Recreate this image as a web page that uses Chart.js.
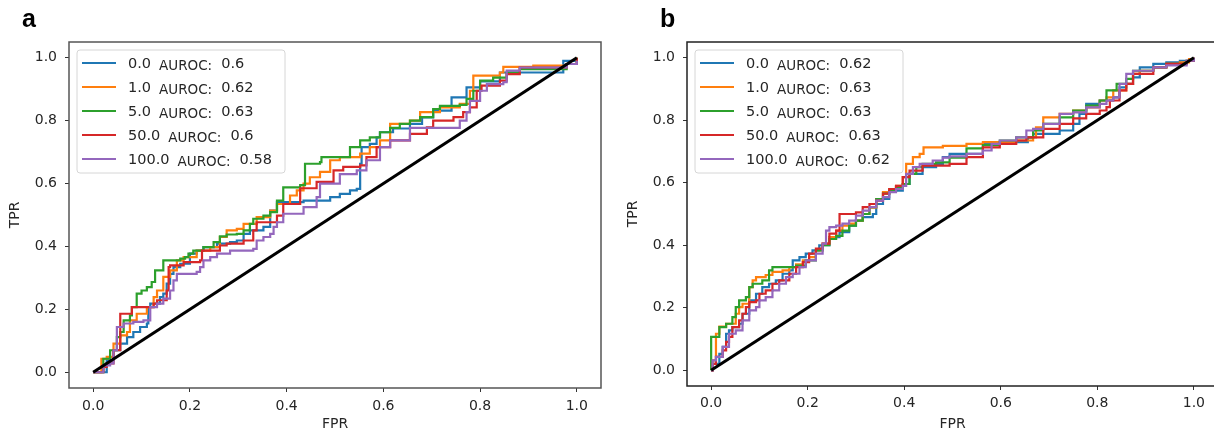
<!DOCTYPE html>
<html>
<head>
<meta charset="utf-8">
<script src="https://cdn.jsdelivr.net/npm/chart.js@4.4.1/dist/chart.umd.min.js"></script>
<style>
  html, body { margin: 0; padding: 0; background: #fff; overflow: hidden; width: 1214px; height: 439px; }
  .panel { position: absolute; top: 0; }
  #wrapA { left: 0; width: 602px; height: 439px; }
  #wrapB { left: 614px; width: 605px; height: 439px; }
  .letter { position: absolute; z-index: 2; font-family: "Liberation Sans", Arial, sans-serif; font-weight: bold; font-size: 25px; line-height: 25px; color: #000; }
</style>
</head>
<body>
<div class="panel" id="wrapA"><canvas id="chartA" width="602" height="439"></canvas></div>
<div class="panel" id="wrapB"><canvas id="chartB" width="605" height="439"></canvas></div>
<div class="letter" style="left:22px;top:6px">a</div>
<div class="letter" style="left:660px;top:6px">b</div>
<script>
// legend labels
const weights = ["0.0", "1.0", "5.0", "50.0", "100.0"];
const aurocA = ["0.6", "0.62", "0.63", "0.6", "0.58"];
const aurocB = ["0.62", "0.63", "0.63", "0.63", "0.62"];
const tickValues = [0, 0.2, 0.4, 0.6, 0.8, 1.0];
const colors = ["#1f77b4", "#ff7f0e", "#2ca02c", "#d62728", "#9467bd"];

// chance line
const chanceLine = [[0, 0], [1, 1]];

// panel a, ROC curves [fpr, tpr]
const rocA0 = [[0,0],[0.028,0.038],[0.042,0.07],[0.056,0.091],[0.07,0.112],[0.083,0.128],[0.097,0.144],[0.111,0.155],[0.114,0.207],[0.118,0.218],[0.138,0.239],[0.145,0.25],[0.152,0.282],[0.159,0.313],[0.166,0.334],[0.18,0.345],[0.2,0.377],[0.214,0.387],[0.228,0.398],[0.256,0.409],[0.283,0.414],[0.297,0.419],[0.311,0.44],[0.324,0.451],[0.352,0.462],[0.366,0.514],[0.38,0.541],[0.435,0.546],[0.49,0.557],[0.51,0.567],[0.531,0.578],[0.545,0.583],[0.552,0.663],[0.555,0.716],[0.572,0.726],[0.586,0.747],[0.593,0.763],[0.62,0.775],[0.655,0.79],[0.68,0.81],[0.703,0.832],[0.738,0.832],[0.741,0.874],[0.765,0.874],[0.772,0.906],[0.8,0.925],[0.841,0.953],[0.965,0.953],[0.972,0.99],[1,1]];
const rocA1 = [[0,0],[0.017,0.043],[0.028,0.049],[0.042,0.091],[0.056,0.117],[0.07,0.128],[0.076,0.165],[0.09,0.186],[0.111,0.207],[0.125,0.239],[0.132,0.26],[0.145,0.303],[0.159,0.324],[0.173,0.356],[0.187,0.366],[0.214,0.387],[0.242,0.398],[0.262,0.43],[0.276,0.451],[0.297,0.456],[0.311,0.472],[0.338,0.493],[0.366,0.514],[0.38,0.535],[0.407,0.562],[0.421,0.578],[0.435,0.6],[0.448,0.62],[0.469,0.637],[0.49,0.674],[0.51,0.684],[0.552,0.695],[0.572,0.716],[0.593,0.737],[0.614,0.79],[0.655,0.8],[0.676,0.827],[0.717,0.842],[0.758,0.853],[0.779,0.895],[0.786,0.943],[0.841,0.953],[0.848,0.971],[0.91,0.975],[0.979,0.98],[1,1]];
const rocA2 = [[0,0],[0.021,0.043],[0.035,0.07],[0.049,0.112],[0.056,0.128],[0.063,0.165],[0.076,0.181],[0.08,0.207],[0.09,0.25],[0.1,0.26],[0.111,0.271],[0.121,0.287],[0.128,0.324],[0.138,0.324],[0.145,0.356],[0.18,0.361],[0.19,0.366],[0.197,0.377],[0.207,0.387],[0.228,0.398],[0.249,0.414],[0.262,0.432],[0.276,0.438],[0.297,0.44],[0.311,0.451],[0.324,0.472],[0.331,0.488],[0.352,0.498],[0.366,0.509],[0.38,0.546],[0.393,0.588],[0.428,0.595],[0.438,0.663],[0.469,0.668],[0.472,0.684],[0.531,0.716],[0.552,0.737],[0.572,0.747],[0.593,0.763],[0.614,0.777],[0.634,0.79],[0.655,0.8],[0.676,0.811],[0.703,0.837],[0.717,0.847],[0.758,0.85],[0.772,0.869],[0.786,0.895],[0.8,0.927],[0.827,0.937],[0.855,0.953],[0.882,0.964],[0.979,0.98],[1,1]];
const rocA3 = [[0,0],[0.021,0.017],[0.028,0.028],[0.042,0.07],[0.056,0.186],[0.08,0.186],[0.08,0.207],[0.125,0.218],[0.132,0.229],[0.152,0.26],[0.156,0.334],[0.159,0.34],[0.187,0.35],[0.221,0.356],[0.225,0.387],[0.242,0.387],[0.262,0.403],[0.276,0.409],[0.311,0.419],[0.331,0.451],[0.338,0.477],[0.38,0.498],[0.393,0.535],[0.428,0.585],[0.462,0.605],[0.497,0.642],[0.517,0.653],[0.552,0.658],[0.565,0.684],[0.586,0.716],[0.614,0.737],[0.655,0.758],[0.69,0.779],[0.703,0.8],[0.745,0.811],[0.765,0.827],[0.779,0.842],[0.793,0.895],[0.803,0.911],[0.841,0.927],[0.855,0.948],[0.882,0.969],[0.979,0.98],[1,1]];
const rocA4 = [[0,0],[0.021,0.022],[0.035,0.028],[0.042,0.07],[0.049,0.144],[0.063,0.155],[0.083,0.16],[0.104,0.165],[0.118,0.207],[0.132,0.218],[0.145,0.234],[0.159,0.26],[0.166,0.292],[0.173,0.313],[0.187,0.313],[0.214,0.319],[0.221,0.334],[0.228,0.356],[0.242,0.366],[0.256,0.377],[0.283,0.387],[0.331,0.392],[0.338,0.419],[0.352,0.43],[0.366,0.44],[0.373,0.462],[0.38,0.477],[0.393,0.504],[0.435,0.525],[0.462,0.557],[0.469,0.6],[0.51,0.63],[0.545,0.642],[0.565,0.674],[0.593,0.716],[0.614,0.737],[0.655,0.777],[0.703,0.777],[0.758,0.8],[0.772,0.827],[0.779,0.863],[0.8,0.895],[0.814,0.916],[0.848,0.922],[0.855,0.959],[0.882,0.969],[0.979,0.98],[1,0.99]];

// panel b, ROC curves [fpr, tpr]
const rocB0 = [[0,0],[0.003,0.021],[0.017,0.053],[0.024,0.075],[0.031,0.117],[0.037,0.128],[0.044,0.138],[0.058,0.149],[0.065,0.181],[0.079,0.224],[0.093,0.245],[0.106,0.266],[0.12,0.277],[0.134,0.288],[0.148,0.309],[0.162,0.32],[0.169,0.352],[0.183,0.362],[0.196,0.373],[0.21,0.384],[0.224,0.4],[0.245,0.426],[0.266,0.442],[0.286,0.463],[0.3,0.479],[0.314,0.49],[0.335,0.5],[0.342,0.532],[0.356,0.548],[0.369,0.575],[0.397,0.596],[0.411,0.628],[0.438,0.65],[0.466,0.66],[0.48,0.682],[0.494,0.692],[0.563,0.724],[0.598,0.73],[0.653,0.73],[0.656,0.745],[0.667,0.756],[0.701,0.756],[0.722,0.767],[0.75,0.788],[0.763,0.82],[0.777,0.852],[0.805,0.863],[0.833,0.873],[0.846,0.905],[0.86,0.916],[0.874,0.937],[0.888,0.969],[0.916,0.98],[0.943,0.985],[0.971,0.99],[1,1]];
const rocB1 = [[0,0],[0.003,0.032],[0.01,0.117],[0.017,0.14],[0.031,0.149],[0.044,0.149],[0.051,0.181],[0.058,0.202],[0.065,0.213],[0.079,0.266],[0.086,0.288],[0.093,0.298],[0.113,0.305],[0.127,0.315],[0.148,0.32],[0.162,0.33],[0.176,0.339],[0.19,0.352],[0.203,0.362],[0.217,0.384],[0.231,0.405],[0.245,0.426],[0.259,0.447],[0.272,0.463],[0.286,0.469],[0.3,0.479],[0.314,0.5],[0.328,0.52],[0.342,0.548],[0.356,0.57],[0.369,0.58],[0.383,0.59],[0.397,0.618],[0.404,0.66],[0.418,0.682],[0.432,0.692],[0.44,0.713],[0.48,0.718],[0.529,0.724],[0.563,0.73],[0.598,0.73],[0.632,0.735],[0.667,0.745],[0.673,0.777],[0.688,0.809],[0.722,0.82],[0.75,0.831],[0.777,0.841],[0.805,0.863],[0.819,0.873],[0.833,0.895],[0.86,0.916],[0.874,0.948],[0.888,0.958],[0.916,0.969],[0.943,0.98],[0.971,0.985],[0.99,0.995],[1,1]];
const rocB2 = [[0,0],[0,0.107],[0.01,0.107],[0.017,0.138],[0.024,0.138],[0.031,0.149],[0.044,0.17],[0.051,0.202],[0.058,0.224],[0.072,0.234],[0.079,0.266],[0.086,0.277],[0.106,0.288],[0.12,0.32],[0.127,0.33],[0.176,0.335],[0.196,0.352],[0.217,0.384],[0.231,0.4],[0.245,0.42],[0.259,0.43],[0.272,0.447],[0.286,0.463],[0.3,0.479],[0.314,0.5],[0.328,0.522],[0.342,0.548],[0.356,0.565],[0.369,0.575],[0.383,0.586],[0.397,0.596],[0.411,0.628],[0.425,0.65],[0.438,0.66],[0.466,0.665],[0.494,0.68],[0.529,0.71],[0.563,0.72],[0.598,0.735],[0.632,0.745],[0.667,0.767],[0.688,0.788],[0.722,0.809],[0.75,0.831],[0.777,0.847],[0.805,0.863],[0.819,0.895],[0.84,0.916],[0.86,0.932],[0.874,0.958],[0.916,0.969],[0.943,0.98],[0.985,0.99],[1,1]];
const rocB3 = [[0,0],[0.003,0.021],[0.01,0.043],[0.024,0.064],[0.031,0.091],[0.037,0.107],[0.044,0.138],[0.058,0.16],[0.065,0.181],[0.072,0.202],[0.079,0.218],[0.093,0.224],[0.1,0.245],[0.113,0.256],[0.127,0.277],[0.141,0.288],[0.162,0.309],[0.176,0.33],[0.19,0.346],[0.203,0.373],[0.217,0.389],[0.231,0.405],[0.245,0.437],[0.259,0.447],[0.266,0.5],[0.3,0.505],[0.314,0.522],[0.328,0.532],[0.342,0.543],[0.356,0.565],[0.369,0.58],[0.383,0.59],[0.397,0.618],[0.411,0.639],[0.438,0.655],[0.494,0.66],[0.529,0.682],[0.563,0.713],[0.598,0.724],[0.632,0.735],[0.653,0.745],[0.688,0.772],[0.722,0.788],[0.75,0.806],[0.777,0.82],[0.805,0.831],[0.819,0.842],[0.826,0.863],[0.846,0.895],[0.86,0.916],[0.874,0.948],[0.916,0.969],[0.943,0.98],[0.985,0.99],[1,1]];
const rocB4 = [[0,0],[0.003,0.032],[0.01,0.043],[0.024,0.075],[0.037,0.117],[0.051,0.128],[0.065,0.16],[0.079,0.192],[0.093,0.202],[0.1,0.224],[0.113,0.234],[0.127,0.256],[0.141,0.277],[0.155,0.298],[0.169,0.309],[0.183,0.33],[0.196,0.352],[0.217,0.373],[0.231,0.405],[0.238,0.447],[0.245,0.458],[0.259,0.463],[0.272,0.469],[0.286,0.479],[0.3,0.495],[0.314,0.511],[0.328,0.522],[0.342,0.543],[0.356,0.554],[0.369,0.57],[0.383,0.58],[0.397,0.59],[0.404,0.628],[0.418,0.65],[0.432,0.66],[0.459,0.671],[0.48,0.68],[0.494,0.684],[0.529,0.692],[0.563,0.703],[0.581,0.724],[0.598,0.735],[0.632,0.745],[0.653,0.767],[0.667,0.772],[0.688,0.788],[0.722,0.82],[0.75,0.825],[0.777,0.841],[0.805,0.852],[0.819,0.863],[0.833,0.873],[0.846,0.916],[0.86,0.948],[0.874,0.958],[0.916,0.969],[0.943,0.975],[0.985,0.99],[1,1]];

const tickFont = { family: "DejaVu Sans", size: 14 };
const textColor = "#262626";

// box around the plot area (matplotlib spines)
const framePlugin = {
  id: "frame",
  afterDatasetsDraw(chart, args, opts) {
    const { ctx, chartArea: a } = chart;
    ctx.save();
    ctx.strokeStyle = opts.color;
    ctx.lineWidth = 1.5;
    ctx.strokeRect(a.left, a.top, a.right - a.left, a.bottom - a.top);
    ctx.restore();
  }
};

// legend with a smaller "AUROC:" word, like the original
const rocLegend = {
  id: "rocLegend",
  afterDraw(chart) {
    const { ctx, chartArea: a } = chart;
    const x0 = a.left + 8, y0 = a.top + 8, w = 208, h = 123, r = 3;
    ctx.save();
    ctx.beginPath();
    ctx.moveTo(x0 + r, y0);
    ctx.arcTo(x0 + w, y0, x0 + w, y0 + h, r);
    ctx.arcTo(x0 + w, y0 + h, x0, y0 + h, r);
    ctx.arcTo(x0, y0 + h, x0, y0, r);
    ctx.arcTo(x0, y0, x0 + w, y0, r);
    ctx.closePath();
    ctx.fillStyle = "rgba(255,255,255,0.85)";
    ctx.fill();
    ctx.strokeStyle = "#d6d6d6";
    ctx.lineWidth = 1;
    ctx.stroke();

    chart.data.datasets.filter(d => d.auroc).forEach((d, i) => {
      const cy = y0 + 13 + i * 24;
      ctx.strokeStyle = d.borderColor;
      ctx.lineWidth = 2;
      ctx.beginPath();
      ctx.moveTo(x0 + 5, cy);
      ctx.lineTo(x0 + 39, cy);
      ctx.stroke();

      ctx.fillStyle = textColor;
      ctx.textBaseline = "alphabetic";
      ctx.textAlign = "left";
      let tx = x0 + 51;
      ctx.font = '14.5px "DejaVu Sans"';
      ctx.fillText(d.weight, tx, cy + 5);
      tx += ctx.measureText(d.weight).width + 8;
      ctx.font = '13.5px "DejaVu Sans"';
      ctx.fillText("AUROC:", tx, cy + 7);
      tx += ctx.measureText("AUROC:").width + 9;
      ctx.font = '14.5px "DejaVu Sans"';
      ctx.fillText(d.auroc, tx, cy + 5);
    });
    ctx.restore();
  }
};

function makeChart(id, curves, aurocs, dims) {
  const datasets = curves.map((pts, i) => ({
    label: weights[i] + " AUROC: " + aurocs[i],
    weight: weights[i],
    auroc: aurocs[i],
    data: pts.map(p => ({ x: p[0], y: p[1] })),
    showLine: true,
    stepped: true,
    borderColor: colors[i],
    borderWidth: 2.2,
    pointRadius: 0,
    fill: false,
    order: 5 - i
  }));
  datasets.push({
    label: "chance",
    data: chanceLine.map(p => ({ x: p[0], y: p[1] })),
    showLine: true,
    borderColor: "#000",
    borderWidth: 3,
    pointRadius: 0,
    fill: false,
    order: 0
  });

  const axis = (title, size, titlePad, labelPad) => ({
    type: "linear",
    min: -0.05,
    max: 1.05,
    afterBuildTicks: s => { s.ticks = tickValues.map(v => ({ value: v })); },
    afterFit: s => { if (s.isHorizontal()) s.height = size; else s.width = size; },
    ticks: {
      callback: v => v.toFixed(1),
      font: tickFont,
      color: textColor,
      padding: labelPad,
      maxRotation: 0,
      autoSkip: false
    },
    grid: { drawOnChartArea: false, drawTicks: true, tickLength: 4, tickColor: "#333", tickWidth: 1 },
    border: { display: false },
    title: { display: true, text: title, font: tickFont, color: textColor, padding: titlePad }
  });

  return new Chart(document.getElementById(id), {
    type: "scatter",
    data: { datasets },
    options: {
      responsive: false,
      animation: false,
      layout: { padding: { top: 42, right: 1, left: 0, bottom: 0 } },
      scales: {
        x: axis("FPR", dims.xH, { top: 0, bottom: 6 }, dims.xPad),
        y: axis("TPR", dims.yW, { top: dims.yTitle, bottom: 0 }, 8)
      },
      plugins: {
        legend: { display: false },
        tooltip: { enabled: false },
        frame: { color: dims.frame }
      }
    },
    plugins: [framePlugin, rocLegend]
  });
}

makeChart("chartA", [rocA0, rocA1, rocA2, rocA3, rocA4], aurocA, { xH: 51, yW: 69, yTitle: 7, xPad: 6, frame: "#555" });
makeChart("chartB", [rocB0, rocB1, rocB2, rocB3, rocB4], aurocB, { xH: 53, yW: 73, yTitle: 11, xPad: 5, frame: "#222" });
</script>
</body>
</html>
